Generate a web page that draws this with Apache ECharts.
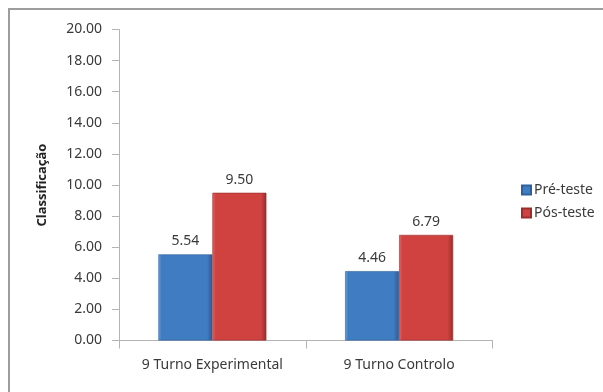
<!DOCTYPE html>
<html>
<head>
<meta charset="utf-8">
<script src="https://cdn.jsdelivr.net/npm/echarts@6/dist/echarts.min.js"></script>
<style>
  html, body { margin: 0; padding: 0; background: #fff; }
  #chart { width: 603px; height: 392px; }
</style>
</head>
<body>
<div id="chart"></div>
<script>
// Scores per class group, before and after the test
const categories = ['9 Turno Experimental', '9 Turno Controlo'];
const preTeste = [5.54, 4.46];
const posTeste = [9.50, 6.79];
const seriesNames = ['Pré-teste', 'Pós-teste'];
const axisTitle = 'Classificação';

const FONT = 'Noto Sans';
const TEXT = '#3a3a3a';

function bevel(light, base, dark) {
  return new echarts.graphic.LinearGradient(0, 0, 1, 0, [
    { offset: 0, color: light },
    { offset: 0.06, color: base },
    { offset: 0.9, color: base },
    { offset: 1, color: dark }
  ]);
}

const blueFill = bevel('#6aa0dc', '#3f7cc2', '#2b5a94');
const redFill = bevel('#e26a68', '#cf4240', '#962b2a');

const chart = echarts.init(document.getElementById('chart'), null, { renderer: 'canvas' });

chart.setOption({
  backgroundColor: '#ffffff',
  animation: false,
  textStyle: { fontFamily: FONT },
  graphic: [{
    type: 'rect',
    shape: { x: 9, y: 9, width: 610, height: 400 },
    style: { fill: 'none', stroke: '#9d9d9d', lineWidth: 2 },
    silent: true
  }],
  grid: { left: 119, right: 110.5, top: 29.5, bottom: 51.5 },
  legend: {
    orient: 'vertical',
    left: 516,
    top: 178,
    itemWidth: 9,
    itemHeight: 9,
    itemGap: 9,
    icon: 'rect',
    textStyle: { fontFamily: FONT, fontSize: 14, color: TEXT, padding: [0, 0, 0, -2] },
    data: seriesNames
  },
  xAxis: {
    type: 'category',
    data: categories,
    axisLine: { lineStyle: { color: '#b4b4b4', width: 1 } },
    axisTick: { show: true, length: 8, alignWithLabel: false, lineStyle: { color: '#b4b4b4' } },
    axisLabel: { fontFamily: FONT, fontSize: 14, color: TEXT, margin: 18 }
  },
  yAxis: {
    type: 'value',
    min: 0,
    max: 20,
    interval: 2,
    name: axisTitle,
    nameLocation: 'middle',
    nameGap: 70,
    nameTextStyle: { fontFamily: FONT, fontSize: 13, fontWeight: 'bold', color: '#222' },
    axisLine: { show: true, lineStyle: { color: '#b4b4b4', width: 1 } },
    axisTick: { show: true, length: 7, lineStyle: { color: '#b4b4b4' } },
    splitLine: { show: false },
    axisLabel: {
      fontFamily: FONT, fontSize: 14, color: TEXT, margin: 17,
      formatter: v => v.toFixed(2)
    }
  },
  series: [
    {
      name: seriesNames[0],
      type: 'bar',
      data: preTeste,
      barWidth: 54,
      barGap: '0%',
      itemStyle: { color: blueFill, borderColor: '#2f6099', borderWidth: 0.6 },
      label: {
        show: true, position: 'top', distance: 6,
        fontFamily: FONT, fontSize: 14, color: TEXT,
        formatter: p => p.value.toFixed(2)
      }
    },
    {
      name: seriesNames[1],
      type: 'bar',
      data: posTeste,
      barWidth: 54,
      barGap: '0%',
      itemStyle: { color: redFill, borderColor: '#9a2e2d', borderWidth: 0.6 },
      label: {
        show: true, position: 'top', distance: 6,
        fontFamily: FONT, fontSize: 14, color: TEXT,
        formatter: p => p.value.toFixed(2)
      }
    }
  ]
});
</script>
</body>
</html>
